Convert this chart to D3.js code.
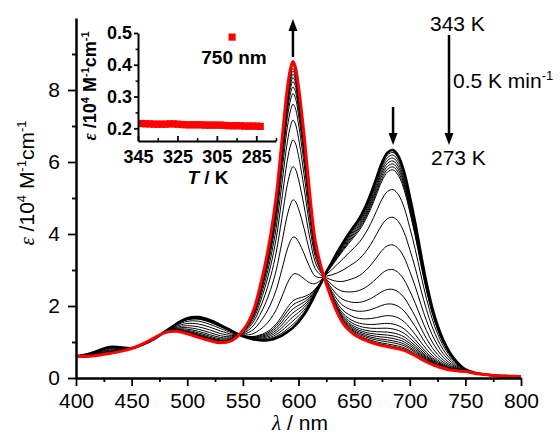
<!DOCTYPE html>
<html>
<head>
<meta charset="utf-8">
<script src="https://cdnjs.cloudflare.com/ajax/libs/d3/7.8.5/d3.min.js"></script>
<style>
  body { margin: 0; background: #fff; }
  svg { font-family: "Liberation Sans", Arial, sans-serif; }
</style>
</head>
<body>
<div id="chart"></div>
<script>
// wavelength grid (nm) shared by both end spectra
const wavelengths = [400, 410, 420, 430, 440, 450, 460, 470, 480, 490, 500, 510, 520, 530, 540,
  545, 550, 555, 560, 565, 570, 575, 580, 585, 590, 593, 595, 597,
  600, 605, 610, 615, 620, 625, 630, 635, 640, 645, 650, 655, 660, 665, 670, 675, 680, 685, 690, 695,
  700, 705, 710, 715, 720, 725, 730, 735, 740, 745, 750, 760, 770, 780, 790, 800];

// 343 K spectrum (black, thick), eps / 10^4 M-1 cm-1
const eps343 = [0.60, 0.66, 0.76, 0.86, 0.85, 0.83, 0.93, 1.08, 1.29, 1.50, 1.66, 1.69, 1.61, 1.47, 1.31,
  1.23, 1.16, 1.11, 1.07, 1.05, 1.04, 1.06, 1.11, 1.18, 1.28, 1.35, 1.40, 1.46,
  1.56, 1.76, 2.02, 2.32, 2.62, 2.94, 3.22, 3.50, 3.76, 4.00, 4.22, 4.45, 4.75, 5.12, 5.55, 5.98, 6.26, 6.33, 6.15, 5.72,
  5.05, 4.30, 3.45, 2.65, 1.98, 1.46, 1.06, 0.76, 0.53, 0.36, 0.24, 0.13, 0.09, 0.06, 0.05, 0.04];

// 273 K spectrum (red, thick)
const eps273 = [0.60, 0.60, 0.63, 0.68, 0.74, 0.82, 0.95, 1.11, 1.26, 1.30, 1.23, 1.13, 1.04, 0.98, 1.04,
  1.15, 1.32, 1.56, 1.92, 2.48, 3.15, 3.98, 5.05, 6.55, 8.05, 8.62, 8.79, 8.66,
  8.10, 6.75, 5.15, 3.82, 3.12, 2.62, 2.18, 1.80, 1.52, 1.34, 1.21, 1.12, 1.05, 0.99, 0.94, 0.90, 0.87, 0.84, 0.81, 0.77,
  0.70, 0.62, 0.53, 0.45, 0.38, 0.32, 0.27, 0.23, 0.21, 0.19, 0.18, 0.12, 0.09, 0.06, 0.05, 0.04];

// share of the 273 K form in each intermediate trace (read from the 595 / 685 nm peak heights)
const mixFraction = [0.012, 0.025, 0.04, 0.055, 0.07, 0.085, 0.1, 0.2, 0.34, 0.48, 0.605, 0.705,
  0.78, 0.84, 0.88, 0.905, 0.925, 0.94, 0.953, 0.965, 0.975, 0.986, 0.993];

const xTicks = [400, 450, 500, 550, 600, 650, 700, 750, 800];
const xMinor = [425, 475, 525, 575, 625, 675, 725, 775];
const yTicks = [0, 2, 4, 6, 8];
const yMinor = [1, 3, 5, 7, 9];

// inset: eps at 750 nm vs T
const insetT = [343, 341, 339, 337, 335, 333, 331, 329, 327, 325, 323, 321, 319, 317, 315, 313,
  311, 309, 307, 305, 303, 301, 299, 297, 295, 293, 291, 289, 287, 285, 283];
const insetEps = [0.215, 0.214, 0.214, 0.213, 0.213, 0.213, 0.213, 0.214, 0.214, 0.213, 0.212, 0.211,
  0.211, 0.211, 0.211, 0.211, 0.210, 0.210, 0.210, 0.210, 0.210, 0.209, 0.208, 0.208, 0.208, 0.208,
  0.207, 0.207, 0.207, 0.207, 0.206];
const insetXTicks = [345, 325, 305, 285];
const insetXMinor = [335, 315, 295, 275];
const insetYTicks = [0.2, 0.3, 0.4, 0.5];
const insetYMinor = [0.25, 0.35, 0.45];

const W = 560, H = 435;
const svg = d3.select("#chart").append("svg")
  .attr("width", W)
  .attr("height", H);

const x = d3.scaleLinear().domain([400, 800]).range([76, 521]);
const y = d3.scaleLinear().domain([0, 10]).range([378, 18]);

// spectra
const line = d3.line()
  .x(d => x(d[0]))
  .y(d => y(d[1]))
  .curve(d3.curveCatmullRom.alpha(0.5));

const toPts = arr => wavelengths.map((w, i) => [w, arr[i]]);

const mixed = mixFraction.map(f => wavelengths.map((w, i) => [w, eps343[i] * (1 - f) + eps273[i] * f]));

svg.append("g")
  .selectAll("path")
  .data(mixed)
  .enter()
  .append("path")
  .attr("d", line)
  .attr("fill", "none")
  .attr("stroke", "#000")
  .attr("stroke-width", 1);

svg.append("path")
  .attr("d", line(toPts(eps343)))
  .attr("fill", "none")
  .attr("stroke", "#000")
  .attr("stroke-width", 2.6);

svg.append("path")
  .attr("d", line(toPts(eps273)))
  .attr("fill", "none")
  .attr("stroke", "#ff0000")
  .attr("stroke-width", 3);

// axes
function styleAxis(g, size, weight) {
  g.selectAll("text")
    .attr("font-family", "'Liberation Sans', Arial, sans-serif")
    .attr("font-size", size)
    .attr("font-weight", weight)
    .attr("fill", "#000");
  g.selectAll("line").attr("stroke", "#000").attr("stroke-width", 1.8);
  g.select(".domain").attr("stroke", "#000").attr("stroke-width", 2.5);
}

svg.append("g")
  .attr("transform", "translate(0,378)")
  .call(d3.axisBottom(x).tickValues(xTicks).tickSize(8).tickSizeOuter(0).tickPadding(7))
  .call(g => styleAxis(g, 21, "normal"));

svg.append("g")
  .attr("transform", "translate(0,378)")
  .call(d3.axisBottom(x).tickValues(xMinor).tickSize(4).tickFormat(""))
  .call(g => { g.select(".domain").remove(); g.selectAll("line").attr("stroke-width", 1.8); });

svg.append("g")
  .attr("transform", "translate(76,0)")
  .call(d3.axisLeft(y).tickValues(yTicks).tickSize(8).tickSizeOuter(0).tickPadding(8))
  .call(g => styleAxis(g, 21, "normal"));

svg.append("g")
  .attr("transform", "translate(76,0)")
  .call(d3.axisLeft(y).tickValues(yMinor).tickSize(4).tickFormat(""))
  .call(g => { g.select(".domain").remove(); g.selectAll("line").attr("stroke-width", 1.8); });

// axis titles
const yLab = svg.append("text")
  .attr("transform", "translate(34,183) rotate(-90)")
  .attr("text-anchor", "middle")
  .attr("font-size", 21);
yLab.append("tspan").attr("font-family", "'Liberation Serif', serif").attr("font-style", "italic").text("ε");
yLab.append("tspan").text(" /10");
yLab.append("tspan").attr("font-size", 13).attr("dy", -8).text("4");
yLab.append("tspan").attr("dy", 8).text(" M");
yLab.append("tspan").attr("font-size", 13).attr("dy", -8).text("-1");
yLab.append("tspan").attr("dy", 8).text("cm");
yLab.append("tspan").attr("font-size", 13).attr("dy", -8).text("-1");

const xLab = svg.append("text")
  .attr("x", 300).attr("y", 430)
  .attr("text-anchor", "middle")
  .attr("font-size", 21);
xLab.append("tspan").attr("font-family", "'Liberation Serif', serif").attr("font-style", "italic").text("λ");
xLab.append("tspan").text(" / nm");

// arrows
function arrow(x0, yFrom, yTip) {
  const dir = yTip < yFrom ? -1 : 1;
  svg.append("line")
    .attr("x1", x0).attr("x2", x0)
    .attr("y1", yFrom).attr("y2", yTip - dir * 9)
    .attr("stroke", "#000").attr("stroke-width", 2.5);
  svg.append("path")
    .attr("d", `M${x0},${yTip} L${x0 - 4.5},${yTip - dir * 12} L${x0 + 4.5},${yTip - dir * 12} Z`)
    .attr("fill", "#000");
}
arrow(x(595), 57, 19);
arrow(x(685), 107, 145);
arrow(449, 35, 145);

svg.append("text").attr("x", 430).attr("y", 31).attr("font-size", 21).text("343 K");
svg.append("text").attr("x", 431).attr("y", 165).attr("font-size", 21).text("273 K");
const rate = svg.append("text").attr("x", 453).attr("y", 88).attr("font-size", 21);
rate.append("tspan").text("0.5 K min");
rate.append("tspan").attr("font-size", 13).attr("dy", -8).text("-1");

// inset
const ix = d3.scaleLinear().domain([345, 275]).range([138, 276]);
const iy = d3.scaleLinear().domain([0.16, 0.5]).range([141, 33]);

svg.append("g")
  .selectAll("rect")
  .data(insetT)
  .enter()
  .append("rect")
  .attr("x", (d) => ix(d) - 3.6)
  .attr("y", (d, i) => iy(insetEps[i]) - 3.6)
  .attr("width", 7.2)
  .attr("height", 7.2)
  .attr("fill", "#ff0000");

svg.append("g")
  .attr("transform", "translate(0,141)")
  .call(d3.axisBottom(ix).tickValues(insetXTicks).tickSize(-5).tickSizeOuter(0).tickPadding(9))
  .call(g => styleAxis(g, 18, "bold"))
  .call(g => g.select(".domain").attr("stroke-width", 2));

svg.append("g")
  .attr("transform", "translate(0,141)")
  .call(d3.axisBottom(ix).tickValues(insetXMinor).tickSize(-3).tickFormat(""))
  .call(g => { g.select(".domain").remove(); g.selectAll("line").attr("stroke-width", 1.5); });

svg.append("g")
  .attr("transform", "translate(138,0)")
  .call(d3.axisLeft(iy).tickValues(insetYTicks).tickFormat(d3.format(".1f")).tickSize(4).tickSizeOuter(0).tickPadding(2))
  .call(g => styleAxis(g, 18, "bold"))
  .call(g => g.select(".domain").attr("stroke-width", 2));

svg.append("g")
  .attr("transform", "translate(138,0)")
  .call(d3.axisLeft(iy).tickValues(insetYMinor).tickSize(2.5).tickFormat(""))
  .call(g => { g.select(".domain").remove(); g.selectAll("line").attr("stroke-width", 1.5); });

// inset legend
svg.append("rect")
  .attr("x", 228.5).attr("y", 33.5)
  .attr("width", 7.2).attr("height", 7.2)
  .attr("fill", "#ff0000");
svg.append("text")
  .attr("x", 234).attr("y", 64)
  .attr("text-anchor", "middle")
  .attr("font-size", 19).attr("font-weight", "bold")
  .text("750 nm");

const iyLab = svg.append("text")
  .attr("transform", "translate(96,86) rotate(-90)")
  .attr("text-anchor", "middle")
  .attr("font-size", 18)
  .attr("font-weight", "bold");
iyLab.append("tspan").attr("font-family", "'Liberation Serif', serif").attr("font-style", "italic").text("ε");
iyLab.append("tspan").text(" /10");
iyLab.append("tspan").attr("font-size", 11).attr("dy", -7).text("4");
iyLab.append("tspan").attr("dy", 7).text(" M");
iyLab.append("tspan").attr("font-size", 11).attr("dy", -7).text("-1");
iyLab.append("tspan").attr("dy", 7).text("cm");
iyLab.append("tspan").attr("font-size", 11).attr("dy", -7).text("-1");

const ixLab = svg.append("text")
  .attr("x", 208).attr("y", 184)
  .attr("text-anchor", "middle")
  .attr("font-size", 19)
  .attr("font-weight", "bold");
ixLab.append("tspan").attr("font-style", "italic").text("T");
ixLab.append("tspan").text(" / K");
</script>
</body>
</html>
